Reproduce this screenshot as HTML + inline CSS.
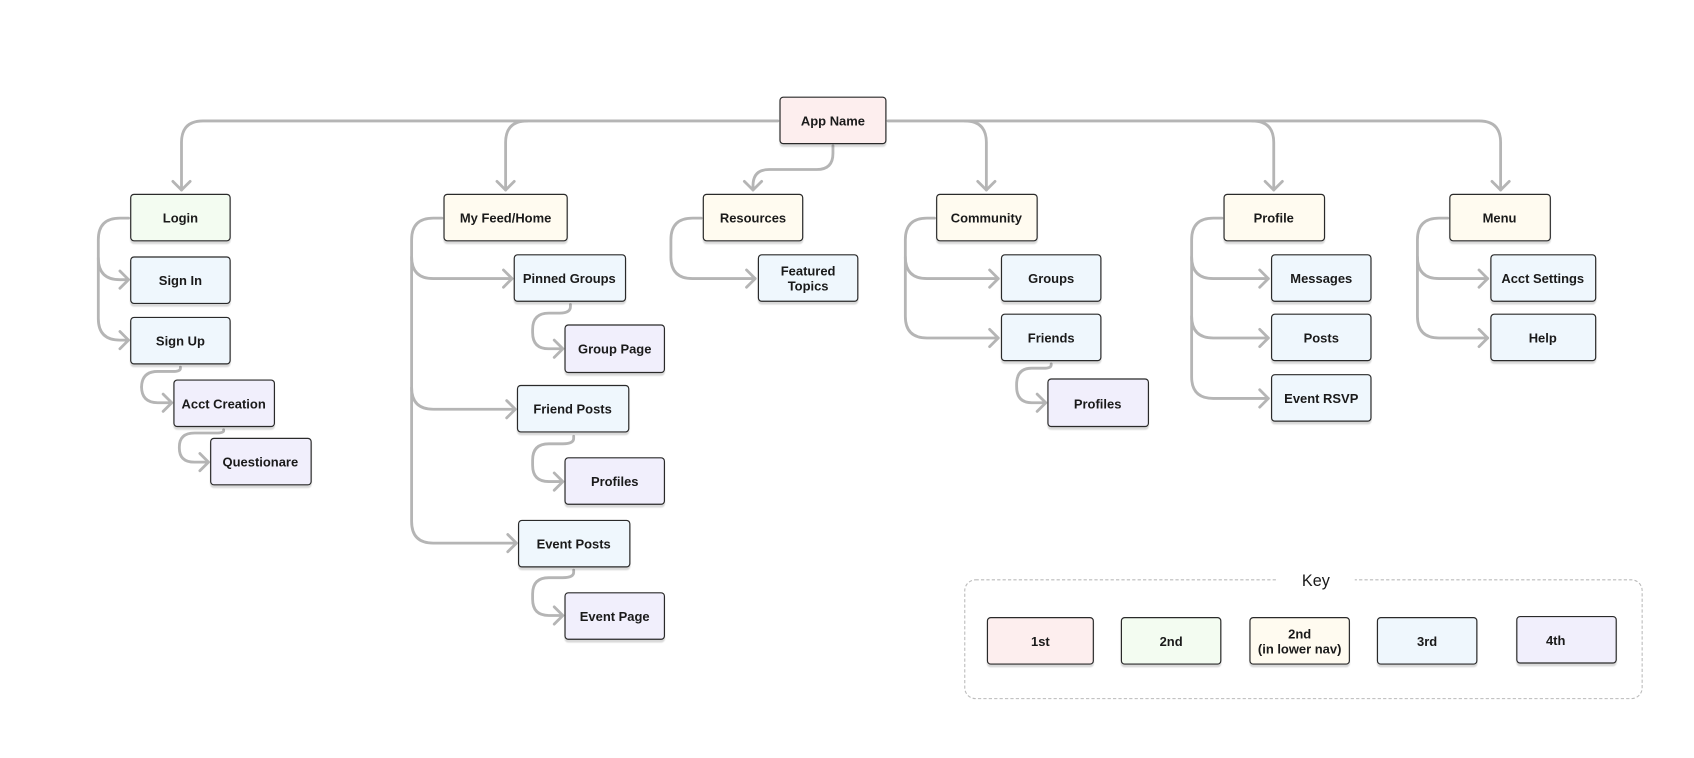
<!DOCTYPE html>
<html><head><meta charset="utf-8"><style>
html,body{margin:0;padding:0;background:#fff;}
svg{display:block}
text{font-family:"Liberation Sans",sans-serif;font-size:12px;font-weight:bold;fill:#1a1a1a;text-anchor:middle;dominant-baseline:central}
.c{fill:none;stroke:#b5b5b5;stroke-width:2.6;stroke-linecap:round;stroke-linejoin:round}
</style></head><body>
<svg width="1694" height="758" viewBox="0 0 1568 702" preserveAspectRatio="none" xmlns="http://www.w3.org/2000/svg">
<defs>
<filter id="s" x="-10%" y="-10%" width="120%" height="140%"><feDropShadow dx="0" dy="2.5" stdDeviation="0.6" flood-color="#000" flood-opacity="0.15"/></filter>
</defs>
<g class="c">
<!-- main -->
<path d="M720 112 H188 Q168 112 168 132 V176"/>
<polyline points="160,168 168,176 176,168"/>
<path d="M488 112 Q468 112 468 132 V176"/>
<polyline points="460,168 468,176 476,168"/>
<path d="M822 112 H1369 Q1389 112 1389 132 V176"/>
<polyline points="1381,168 1389,176 1397,168"/>
<path d="M893 112 Q913 112 913 132 V176"/>
<polyline points="905,168 913,176 921,168"/>
<path d="M1159 112 Q1179 112 1179 132 V176"/>
<polyline points="1171,168 1179,176 1187,168"/>
<path d="M771 135 V142 Q771 157 756 157 H712 Q697 157 697 172 V176"/>
<polyline points="689,168 697,176 705,168"/>
<!-- Login -->
<path d="M119 202 H111 Q91 202 91 222 V295 Q91 315 111 315 H118"/>
<path d="M91 239 Q91 259 111 259 H118"/>
<polyline points="111,251 119,259 111,267"/><polyline points="111,307 119,315 111,323"/>
<path d="M167 340 V341 Q167 344 160 344 H146 Q131 344 131 359 V358 Q131 373 146 373 H158"/>
<polyline points="151,365 159,373 151,381"/>
<path d="M207 398 V399 Q207 401 200 401 H180 Q166 401 166 414 V415 Q166 428 180 428 H192"/>
<polyline points="185,420 193,428 185,436"/>
<!-- Feed -->
<path d="M409 202 H401 Q381 202 381 222 V483 Q381 503 401 503 H477"/>
<path d="M381 238 Q381 258 401 258 H473"/>
<path d="M381 359 Q381 379 401 379 H476"/>
<polyline points="466,250 474,258 466,266"/><polyline points="469,371 477,379 469,387"/><polyline points="470,495 478,503 470,511"/>
<path d="M528 282 V284 Q528 290 518 290 H508 Q493 290 493 305 V308 Q493 323 508 323 H520"/>
<polyline points="513,315 521,323 513,331"/>
<path d="M531 404 V406 Q531 411 521 411 H508 Q493 411 493 426 V431 Q493 446 508 446 H520"/>
<polyline points="513,438 521,446 513,454"/>
<path d="M531 528 V530 Q531 535 521 535 H508 Q493 535 493 550 V555 Q493 570 508 570 H520"/>
<polyline points="513,562 521,570 513,578"/>
<!-- Resources -->
<path d="M649 202 H641 Q621 202 621 222 V238 Q621 258 641 258 H699"/>
<polyline points="691,250 699,258 691,266"/>
<!-- Community -->
<path d="M865 202 H858 Q838 202 838 222 V293 Q838 313 858 313 H924"/>
<path d="M838 238 Q838 258 858 258 H924"/>
<polyline points="916,250 924,258 916,266"/><polyline points="916,305 924,313 916,321"/>
<path d="M973 337 V338 Q973 341 966 341 H955 Q941 341 941 356 V358 Q941 373 955 373 H967"/>
<polyline points="960,365 968,373 960,381"/>
<!-- Profile -->
<path d="M1131 202 H1123 Q1103 202 1103 222 V349 Q1103 369 1123 369 H1174"/>
<path d="M1103 238 Q1103 258 1123 258 H1174"/>
<path d="M1103 293 Q1103 313 1123 313 H1174"/>
<polyline points="1166,250 1174,258 1166,266"/><polyline points="1166,305 1174,313 1166,321"/><polyline points="1166,361 1174,369 1166,377"/>
<!-- Menu -->
<path d="M1340 202 H1332 Q1312 202 1312 222 V293 Q1312 313 1332 313 H1377"/>
<path d="M1312 238 Q1312 258 1332 258 H1377"/>
<polyline points="1369,250 1377,258 1369,266"/><polyline points="1369,305 1377,313 1369,321"/>
</g>
<!-- key frame -->
<rect x="893" y="537" width="627" height="110" rx="10" fill="none" stroke="#bbb" stroke-width="1" stroke-dasharray="3,2"/>
<rect x="1182" y="528" width="72" height="18" fill="#fff"/>
<text x="1218" y="538" style="font-size:15px;font-weight:normal">Key</text>
<g filter="url(#s)" stroke="#2a2a2a" stroke-width="1.1">
<rect x="722" y="90" width="98" height="43" rx="3" fill="#fdeeee"/>
<rect x="121" y="180" width="92" height="43" rx="3" fill="#f3fcf1"/>
<rect x="121" y="238" width="92" height="43" rx="3" fill="#eff7fd"/>
<rect x="121" y="294" width="92" height="43" rx="3" fill="#eff7fd"/>
<rect x="161" y="352" width="93" height="43" rx="3" fill="#f1effc"/>
<rect x="195" y="406" width="93" height="43" rx="3" fill="#f1effc"/>
<rect x="411" y="180" width="114" height="43" rx="3" fill="#fffbf0"/>
<rect x="476" y="236" width="103" height="43" rx="3" fill="#eff7fd"/>
<rect x="523" y="301" width="92" height="44" rx="3" fill="#f1effc"/>
<rect x="479" y="357" width="103" height="43" rx="3" fill="#eff7fd"/>
<rect x="523" y="424" width="92" height="43" rx="3" fill="#f1effc"/>
<rect x="480" y="482" width="103" height="43" rx="3" fill="#eff7fd"/>
<rect x="523" y="549" width="92" height="43" rx="3" fill="#f1effc"/>
<rect x="651" y="180" width="92" height="43" rx="3" fill="#fffbf0"/>
<rect x="702" y="236" width="92" height="43" rx="3" fill="#eff7fd"/>
<rect x="867" y="180" width="93" height="43" rx="3" fill="#fffbf0"/>
<rect x="927" y="236" width="92" height="43" rx="3" fill="#eff7fd"/>
<rect x="927" y="291" width="92" height="43" rx="3" fill="#eff7fd"/>
<rect x="970" y="351" width="93" height="44" rx="3" fill="#f1effc"/>
<rect x="1133" y="180" width="93" height="43" rx="3" fill="#fffbf0"/>
<rect x="1177" y="236" width="92" height="43" rx="3" fill="#eff7fd"/>
<rect x="1177" y="291" width="92" height="43" rx="3" fill="#eff7fd"/>
<rect x="1177" y="347" width="92" height="43" rx="3" fill="#eff7fd"/>
<rect x="1342" y="180" width="93" height="43" rx="3" fill="#fffbf0"/>
<rect x="1380" y="236" width="97" height="43" rx="3" fill="#eff7fd"/>
<rect x="1380" y="291" width="97" height="43" rx="3" fill="#eff7fd"/>
<rect x="914" y="572" width="98" height="43" rx="3" fill="#fdeeee"/>
<rect x="1038" y="572" width="92" height="43" rx="3" fill="#f3fcf1"/>
<rect x="1157" y="572" width="92" height="43" rx="3" fill="#fffbf0"/>
<rect x="1275" y="572" width="92" height="43" rx="3" fill="#eff7fd"/>
<rect x="1404" y="571" width="92" height="43" rx="3" fill="#f1effc"/>
</g>
<text x="771" y="112">App Name</text>
<text x="167" y="202">Login</text>
<text x="167" y="260">Sign In</text>
<text x="167" y="316">Sign Up</text>
<text x="207" y="374">Acct Creation</text>
<text x="241" y="428">Questionare</text>
<text x="468" y="202">My Feed/Home</text>
<text x="527" y="258">Pinned Groups</text>
<text x="569" y="323">Group Page</text>
<text x="530" y="379">Friend Posts</text>
<text x="569" y="446">Profiles</text>
<text x="531" y="504">Event Posts</text>
<text x="569" y="571">Event Page</text>
<text x="697" y="202">Resources</text>
<text x="748" y="251">Featured</text>
<text x="748" y="265">Topics</text>
<text x="913" y="202">Community</text>
<text x="973" y="258">Groups</text>
<text x="973" y="313">Friends</text>
<text x="1016" y="374">Profiles</text>
<text x="1179" y="202">Profile</text>
<text x="1223" y="258">Messages</text>
<text x="1223" y="313">Posts</text>
<text x="1223" y="369">Event RSVP</text>
<text x="1388" y="202">Menu</text>
<text x="1428" y="258">Acct Settings</text>
<text x="1428" y="313">Help</text>
<text x="963" y="594">1st</text>
<text x="1084" y="594">2nd</text>
<text x="1203" y="587">2nd</text>
<text x="1203" y="601">(in lower nav)</text>
<text x="1321" y="594">3rd</text>
<text x="1440" y="593">4th</text>
</svg>
</body></html>
